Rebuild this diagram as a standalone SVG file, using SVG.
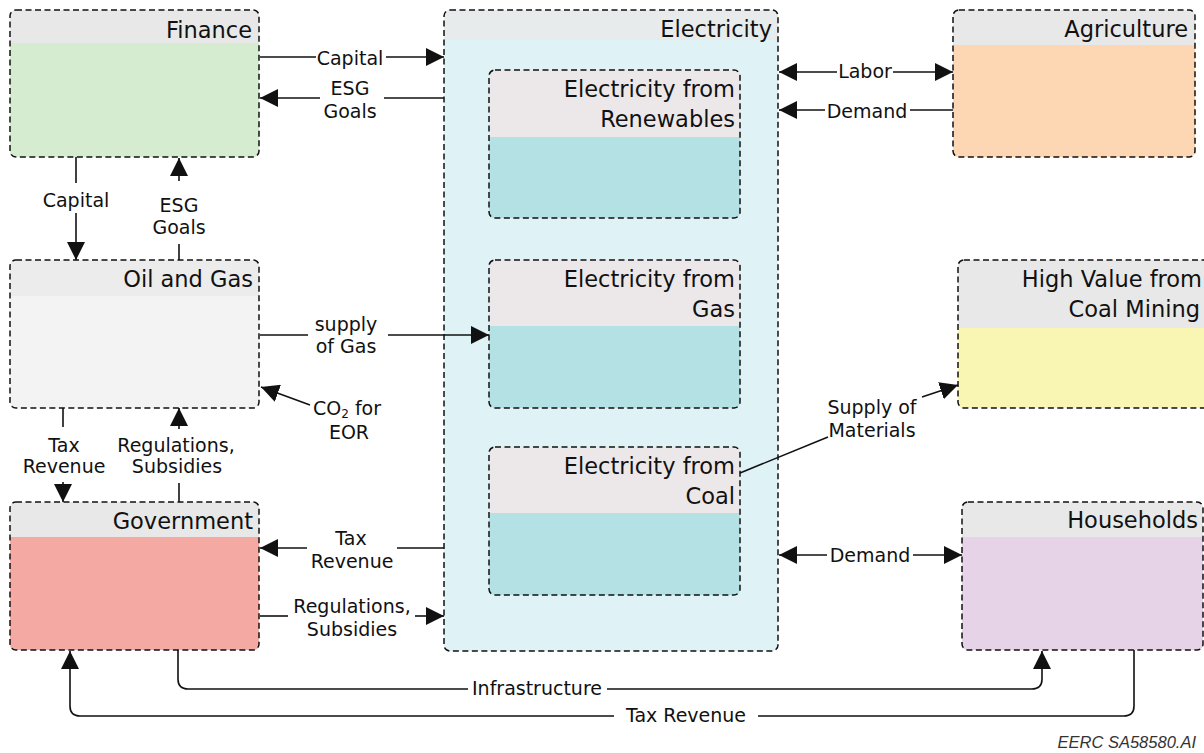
<svg xmlns="http://www.w3.org/2000/svg" width="1204" height="753" viewBox="0 0 1204 753">
<defs>
<marker id="ah" markerUnits="userSpaceOnUse" markerWidth="18" markerHeight="18" refX="18" refY="9" orient="auto">
<path d="M0,0 L18,9 L0,18 Z" fill="#111"/>
</marker>
<style>
.box{fill:none;stroke:#111;stroke-width:1.5;stroke-dasharray:6 3.5}
.title{font-family:"DejaVu Sans",sans-serif;font-size:22.5px;fill:#111;text-anchor:end}
.lbl{font-family:"DejaVu Sans",sans-serif;font-size:19px;fill:#111;text-anchor:middle}
.c{fill:none;stroke:#111;stroke-width:1.6}
.ca{fill:none;stroke:#111;stroke-width:1.6;marker-end:url(#ah)}
.hdr{fill:#e8e8e8}
.hdr2{fill:#ece8ea}
.teal{fill:#b4e2e4}
</style>
</defs>
<rect width="1204" height="753" fill="#ffffff"/>

<g id="electricity">
<rect x="444" y="10" width="334" height="641" rx="6" fill="#dff2f6"/>
<path d="M444,40 V16 Q444,10 450,10 H772 Q778,10 778,16 V40 Z" fill="#e7ebeb"/>
<rect class="box" x="444" y="10" width="334" height="641" rx="6"/>
<text class="title" x="772" y="37">Electricity</text>
</g>

<g id="finance">
<path d="M10,43 V16 Q10,10 16,10 H253 Q259,10 259,16 V43 Z" class="hdr"/>
<path d="M10,43 H259 V151 Q259,157 253,157 H16 Q10,157 10,151 Z" fill="#d5ecd1"/>
<rect class="box" x="10" y="10" width="249" height="147" rx="6"/>
<text class="title" x="252" y="38">Finance</text>
</g>

<g id="agriculture">
<path d="M953,45 V16 Q953,10 959,10 H1189 Q1195,10 1195,16 V45 Z" class="hdr"/>
<path d="M953,45 H1195 V151 Q1195,157 1189,157 H959 Q953,157 953,151 Z" fill="#fdd6b3"/>
<rect class="box" x="953" y="10" width="242" height="147" rx="6"/>
<text class="title" x="1188" y="37">Agriculture</text>
</g>

<g id="elec-renewables">
<path d="M489,137 V76 Q489,70 495,70 H734 Q740,70 740,76 V137 Z" class="hdr2"/>
<path d="M489,137 H740 V212 Q740,218 734,218 H495 Q489,218 489,212 Z" class="teal"/>
<rect class="box" x="489" y="70" width="251" height="148" rx="6"/>
<text class="title" x="735" y="97">Electricity from</text>
<text class="title" x="735" y="127">Renewables</text>
</g>

<g id="oil-gas">
<path d="M10,296 V266 Q10,260 16,260 H253 Q259,260 259,266 V296 Z" fill="#ececec"/>
<path d="M10,296 H259 V402 Q259,408 253,408 H16 Q10,408 10,402 Z" fill="#f3f3f3"/>
<rect class="box" x="10" y="260" width="249" height="148" rx="6"/>
<text class="title" x="253" y="287">Oil and Gas</text>
</g>

<g id="elec-gas">
<path d="M489,326 V266 Q489,260 495,260 H734 Q740,260 740,266 V326 Z" class="hdr2"/>
<path d="M489,326 H740 V402 Q740,408 734,408 H495 Q489,408 489,402 Z" class="teal"/>
<rect class="box" x="489" y="260" width="251" height="148" rx="6"/>
<text class="title" x="735" y="287">Electricity from</text>
<text class="title" x="735" y="317">Gas</text>
</g>

<g id="high-value-coal">
<path d="M958,328 V266 Q958,260 964,260 H1214 V328 Z" class="hdr"/>
<path d="M958,328 H1214 V408 H964 Q958,408 958,402 Z" fill="#f9f5b3"/>
<rect class="box" x="958" y="260" width="260" height="148" rx="6"/>
<text class="title" x="1202" y="287">High Value from</text>
<text class="title" x="1200" y="317">Coal Mining</text>
</g>

<g id="elec-coal">
<path d="M489,513 V453 Q489,447 495,447 H734 Q740,447 740,453 V513 Z" class="hdr2"/>
<path d="M489,513 H740 V589 Q740,595 734,595 H495 Q489,595 489,589 Z" class="teal"/>
<rect class="box" x="489" y="447" width="251" height="148" rx="6"/>
<text class="title" x="735" y="474">Electricity from</text>
<text class="title" x="735" y="504">Coal</text>
</g>

<g id="government">
<path d="M10,537 V508 Q10,502 16,502 H253 Q259,502 259,508 V537 Z" class="hdr"/>
<path d="M10,537 H259 V644 Q259,650 253,650 H16 Q10,650 10,644 Z" fill="#f4aaa2"/>
<rect class="box" x="10" y="502" width="249" height="148" rx="6"/>
<text class="title" x="253" y="529">Government</text>
</g>

<g id="households">
<path d="M962,537 V508 Q962,502 968,502 H1197 Q1203,502 1203,508 V537 Z" class="hdr"/>
<path d="M962,537 H1203 V644 Q1203,650 1197,650 H968 Q962,650 962,644 Z" fill="#e6d3e8"/>
<rect class="box" x="962" y="502" width="241" height="148" rx="6"/>
<text class="title" x="1198" y="528">Households</text>
</g>

<g id="connectors">
<path class="c" d="M260,57 H316"/>
<path class="ca" d="M386,57 H444"/>
<path class="c" d="M444,98 H384"/>
<path class="ca" d="M320,98 H260"/>
<path class="c" d="M76,157 V183"/>
<path class="ca" d="M76,213 V260"/>
<path class="c" d="M179,260 V244"/>
<path class="ca" d="M179,181 V158"/>
<path class="c" d="M260,335 H308"/>
<path class="ca" d="M388,335 H489"/>
<path class="ca" d="M310,405 L261,387"/>
<path class="c" d="M63,408 V427"/>
<path class="ca" d="M63,482 V502"/>
<path class="c" d="M179,502 V483"/>
<path class="ca" d="M179,429 V408"/>
<path class="c" d="M444,548 H397"/>
<path class="ca" d="M307,548 H260"/>
<path class="c" d="M260,616 H288"/>
<path class="ca" d="M415,616 H444"/>
<path class="ca" d="M837,72 H779"/>
<path class="ca" d="M893,72 H953"/>
<path class="c" d="M953,110 H910"/>
<path class="ca" d="M825,110 H779"/>
<path class="ca" d="M827,555 H779"/>
<path class="ca" d="M913,555 H962"/>
<path class="c" d="M740,473 L828,437"/>
<path class="ca" d="M922,397 L958,385"/>
<path class="c" d="M178,650 V679 Q178,689 188,689 H468"/>
<path class="ca" d="M607,689 H1032 Q1042,689 1042,679 V651"/>
<path class="c" d="M1134,650 V706 Q1134,716 1124,716 H758"/>
<path class="ca" d="M614,716 H80 Q70,716 70,706 V651"/>

<text class="lbl" x="350" y="65">Capital</text>
<text class="lbl" x="350" y="95">ESG</text>
<text class="lbl" x="350" y="118">Goals</text>
<text class="lbl" x="76" y="207">Capital</text>
<text class="lbl" x="179" y="212">ESG</text>
<text class="lbl" x="179" y="234">Goals</text>
<text class="lbl" x="346" y="331">supply</text>
<text class="lbl" x="346" y="353">of Gas</text>
<text class="lbl" x="313" y="415" style="text-anchor:start">CO<tspan font-size="12" dy="3">2</tspan><tspan dy="-3">  for</tspan></text>
<text class="lbl" x="349" y="439">EOR</text>
<text class="lbl" x="64" y="452">Tax</text>
<text class="lbl" x="64" y="473">Revenue</text>
<text class="lbl" x="176" y="452">Regulations,</text>
<text class="lbl" x="177" y="473">Subsidies</text>
<text class="lbl" x="351" y="545">Tax</text>
<text class="lbl" x="352" y="568">Revenue</text>
<text class="lbl" x="352" y="613">Regulations,</text>
<text class="lbl" x="352" y="636">Subsidies</text>
<text class="lbl" x="865" y="78">Labor</text>
<text class="lbl" x="867" y="118">Demand</text>
<text class="lbl" x="870" y="562">Demand</text>
<text class="lbl" x="872" y="414">Supply of</text>
<text class="lbl" x="872" y="437">Materials</text>
<text class="lbl" x="537" y="695">Infrastructure</text>
<text class="lbl" x="686" y="722">Tax Revenue</text>
</g>

<text x="1196" y="748" font-family="Liberation Sans, sans-serif" font-style="italic" font-size="16.5" fill="#333" text-anchor="end">EERC SA58580.AI</text>
</svg>
